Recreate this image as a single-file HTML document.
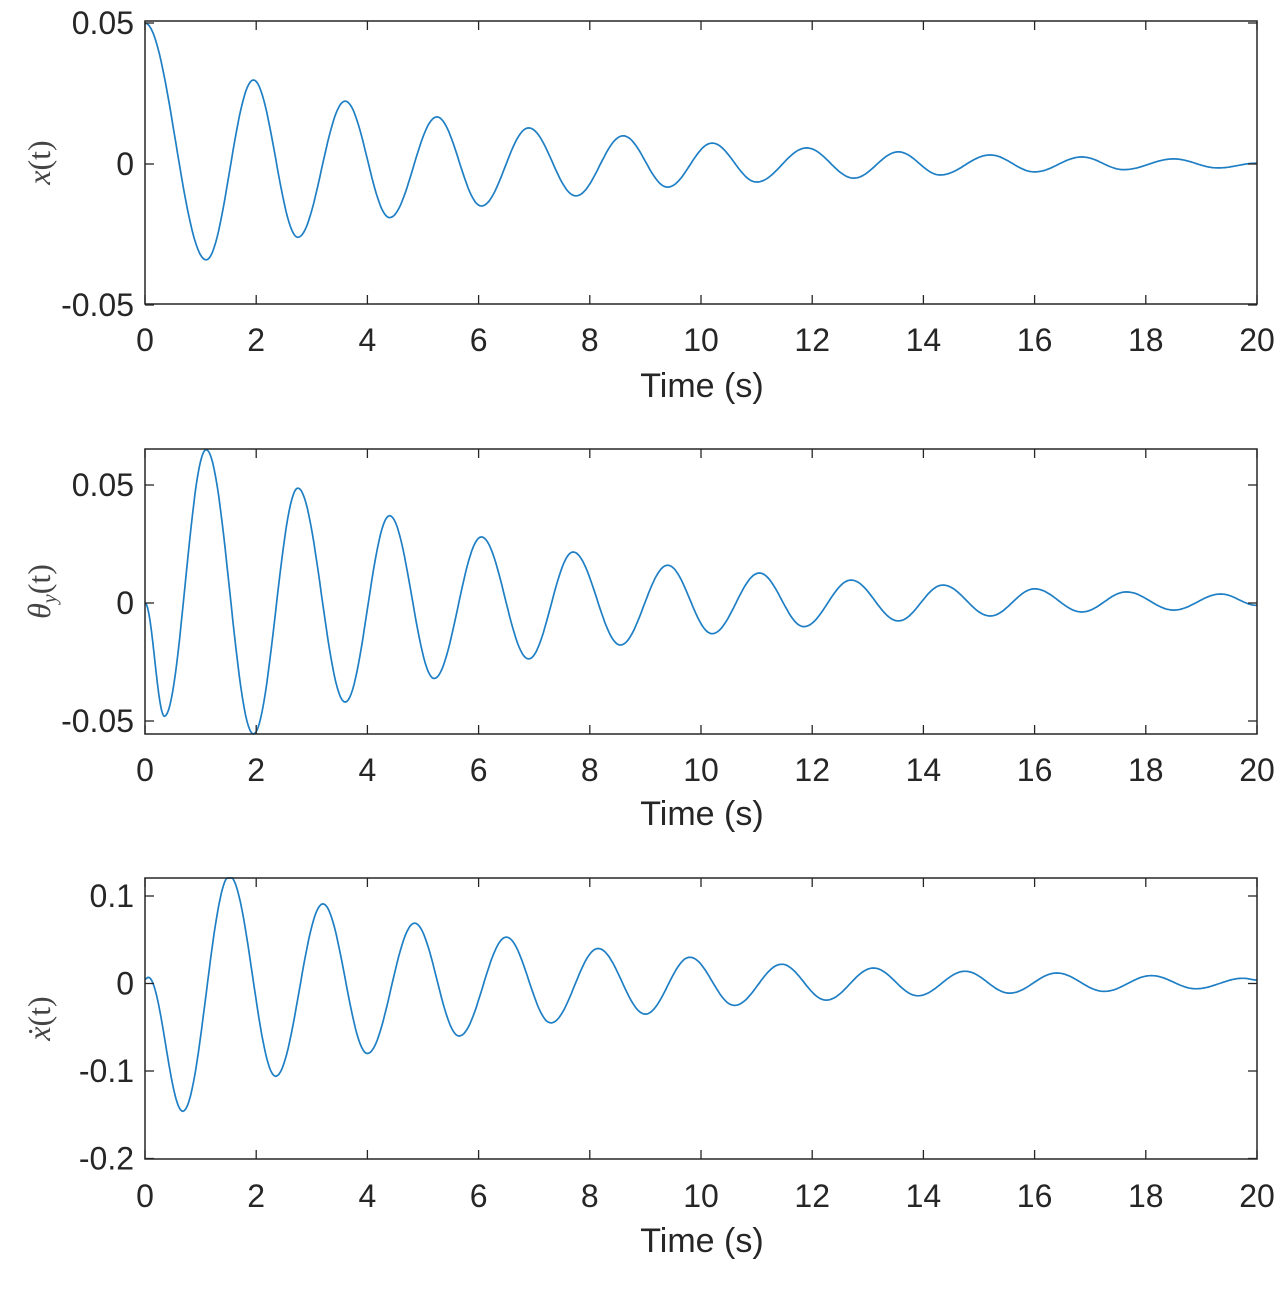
<!DOCTYPE html>
<html><head><meta charset="utf-8"><style>
html,body{margin:0;padding:0;background:#fff;}
svg{display:block;}
text{font-family:"Liberation Sans",sans-serif;fill:#262626;}
</style></head><body>
<svg id="s" width="1284" height="1292" xmlns="http://www.w3.org/2000/svg"></svg>
<script>
const S=document.getElementById('s');
const X0=145,X1=1257;
const xp=t=>X0+(X1-X0)*t/20;
const plots=[
 {top:21,bot:304,zero:164,scale:2820,yt:[[0.05,'0.05'],[0,'0'],[-0.05,'-0.05']],lbl:'x',dot:false,base:350,tb:397,
  ext:[[0,0.05],[1.1,-0.034],[1.95,0.0298],[2.75,-0.026],[3.6,0.0223],[4.4,-0.019],[5.25,0.0167],[6.05,-0.0149],[6.9,0.0128],[7.75,-0.0113],[8.6,0.01],[9.4,-0.0082],[10.2,0.0074],[11.0,-0.0064],[11.9,0.0057],[12.75,-0.005],[13.55,0.0043],[14.3,-0.0039],[15.2,0.0032],[16.0,-0.0028],[16.85,0.0025],[17.6,-0.002],[18.5,0.0018],[19.3,-0.0014],[20,0.0003]]},
 {top:449,bot:734,zero:603,scale:2360,yt:[[0.05,'0.05'],[0,'0'],[-0.05,'-0.05']],lbl:'th',base:780,tb:825,
  ext:[[0,0],[0.35,-0.048],[1.1,0.065],[1.95,-0.0555],[2.75,0.0487],[3.6,-0.042],[4.4,0.037],[5.2,-0.032],[6.05,0.028],[6.9,-0.0237],[7.7,0.0216],[8.55,-0.0178],[9.4,0.016],[10.2,-0.013],[11.05,0.0127],[11.85,-0.01],[12.7,0.0097],[13.55,-0.0076],[14.35,0.0076],[15.2,-0.0055],[16.0,0.006],[16.85,-0.0038],[17.65,0.0047],[18.5,-0.003],[19.35,0.0038],[20,-0.001]]},
 {top:878,bot:1159,zero:983.5,scale:875,yt:[[0.1,'0.1'],[0,'0'],[-0.1,'-0.1'],[-0.2,'-0.2']],lbl:'xd',base:1206,tb:1252,
  ext:[[0,0.005],[0.06,0.007],[0.68,-0.146],[1.52,0.123],[2.35,-0.106],[3.2,0.091],[4.0,-0.08],[4.85,0.069],[5.65,-0.06],[6.5,0.053],[7.3,-0.045],[8.15,0.04],[9.0,-0.035],[9.8,0.03],[10.6,-0.025],[11.45,0.022],[12.25,-0.019],[13.1,0.0177],[13.9,-0.014],[14.75,0.014],[15.55,-0.011],[16.4,0.012],[17.25,-0.009],[18.1,0.009],[18.9,-0.006],[19.75,0.006],[20,0.004]]}
];
let h='';
for(const p of plots){
 const yp=v=>p.zero-v*p.scale;
 let pts=[];
 for(let i=0;i<p.ext.length-1;i++){
  const [t0,v0]=p.ext[i],[t1,v1]=p.ext[i+1];
  for(let k=0;k<30;k++){const u=k/30;const v=v0+(v1-v0)*(1-Math.cos(Math.PI*u))/2;
   pts.push(xp(t0+(t1-t0)*u).toFixed(1)+','+Math.min(Math.max(yp(v),p.top),p.bot).toFixed(1));}
 }
 const l=p.ext[p.ext.length-1];pts.push(xp(l[0]).toFixed(1)+','+yp(l[1]).toFixed(1));
 h+=`<polyline points="${pts.join(' ')}" fill="none" stroke="#1f7fc4" stroke-width="1.7"/>`;
 h+=`<rect x="${X0}" y="${p.top}" width="${X1-X0}" height="${p.bot-p.top}" fill="none" stroke="#262626" stroke-width="1.5"/>`;
 for(let t=0;t<=20;t+=2){const x=xp(t);
  h+=`<line x1="${x}" y1="${p.top}" x2="${x}" y2="${p.top+9}" stroke="#262626" stroke-width="1.3"/><line x1="${x}" y1="${p.bot}" x2="${x}" y2="${p.bot-9}" stroke="#262626" stroke-width="1.3"/>`;
  h+=`<text x="${x}" y="${p.base+1}" font-size="32" text-anchor="middle">${t}</text>`;}
 for(const [v,s] of p.yt){const y=yp(v);
  h+=`<line x1="${X0}" y1="${y}" x2="${X0+9}" y2="${y}" stroke="#262626" stroke-width="1.3"/><line x1="${X1}" y1="${y}" x2="${X1-9}" y2="${y}" stroke="#262626" stroke-width="1.3"/>`;
  h+=`<text x="134" y="${y+11}" font-size="32" text-anchor="end">${s}</text>`;}
 h+=`<text x="702" y="${p.tb}" font-size="34" text-anchor="middle">Time (s)</text>`;
 const cy=(p.top+p.bot)/2;
 let lab;
 if(p.lbl==='x')lab=`<tspan font-style="italic">x</tspan>(t)`;
 else if(p.lbl==='th')lab=`<tspan font-style="italic">θ</tspan><tspan font-style="italic" font-size="20" dy="6">y</tspan><tspan dy="-6">(t)</tspan>`;
 else lab=`<tspan font-style="italic">ẋ</tspan>(t)`;
 h+=`<text transform="translate(50,${cy}) rotate(-90)" font-size="32" text-anchor="middle" style="font-family:'Liberation Serif',serif;fill:#444">${lab}</text>`;
}
S.innerHTML=h;
</script>
</body></html>
